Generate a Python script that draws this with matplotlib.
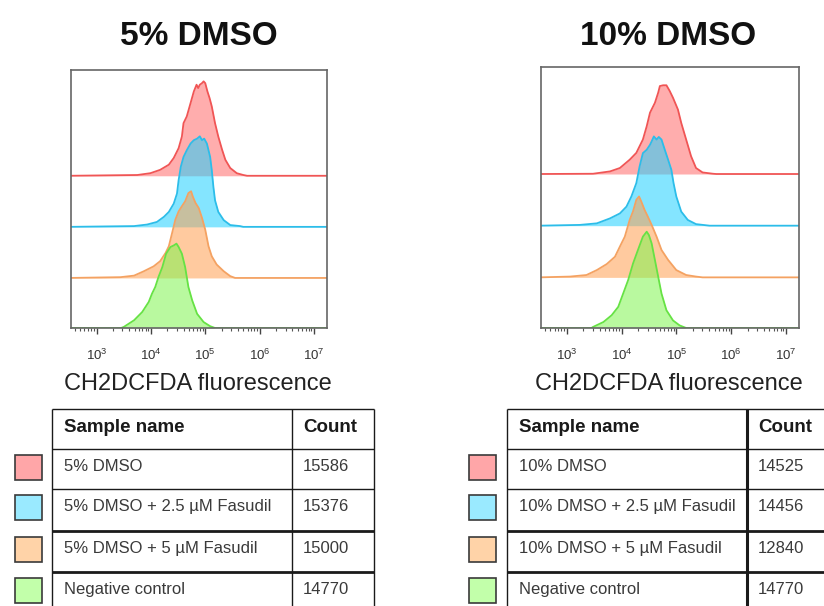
import numpy as np
import matplotlib.pyplot as plt
from matplotlib.patches import Rectangle
from matplotlib.ticker import LogLocator, NullFormatter, FixedLocator, LogFormatterSciNotation

plt.rcParams['font.family'] = ['Liberation Sans', 'DejaVu Sans']
plt.rcParams['mathtext.default'] = 'regular'

# sample table data
names_5 = ['5% DMSO', '5% DMSO + 2.5 µM Fasudil', '5% DMSO + 5 µM Fasudil', 'Negative control']
counts_5 = [15586, 15376, 15000, 14770]
names_10 = ['10% DMSO', '10% DMSO + 2.5 µM Fasudil', '10% DMSO + 5 µM Fasudil', 'Negative control']
counts_10 = [14525, 14456, 12840, 14770]

# histogram traces: log10(fluorescence), height (% of panel)
d5_x = [2.5, 3.75, 3.99, 4.17, 4.33, 4.42, 4.51, 4.57, 4.60, 4.66, 4.73, 4.79, 4.84, 4.87, 4.90,
        4.94, 4.97, 5.00, 5.04, 5.08, 5.12, 5.18, 5.24, 5.31, 5.37, 5.46, 5.58, 5.70, 5.77, 7.3]
d5_y = [0, 0.3, 1.0, 2.3, 4.3, 6.9, 10.7, 15.2, 20.4, 23.0, 28.2, 32.7, 35.3, 34.0, 35.3,
        35.9, 36.6, 35.9, 32.7, 30.1, 26.9, 20.4, 15.2, 10.1, 6.2, 3.0, 1.0, 0.3, 0, 0]
d5_f25_x = [2.5, 3.69, 3.93, 4.11, 4.24, 4.33, 4.42, 4.48, 4.51, 4.55, 4.60, 4.66, 4.73, 4.79, 4.85,
            4.90, 4.94, 4.98, 5.03, 5.06, 5.09, 5.12, 5.15, 5.18, 5.24, 5.34, 5.46, 5.64, 5.70, 7.3]
d5_f25_y = [0, 0.3, 0.9, 1.9, 3.9, 5.8, 9.0, 12.9, 18.1, 23.3, 27.1, 29.7, 32.3, 33.6, 34.2,
            35.1, 33.6, 34.2, 32.3, 29.7, 27.1, 22.0, 15.5, 10.3, 5.8, 2.6, 0.7, 0.3, 0, 0]
d5_f5_x = [2.5, 3.44, 3.69, 3.87, 4.05, 4.17, 4.27, 4.33, 4.39, 4.45, 4.51, 4.57, 4.63, 4.69,
           4.74, 4.77, 4.82, 4.88, 4.94, 5.00, 5.06, 5.12, 5.21, 5.34, 5.46, 5.55, 7.3]
d5_f5_y = [0, 0.3, 0.9, 2.6, 4.5, 6.5, 9.7, 12.3, 17.4, 22.6, 25.8, 27.8, 29.7, 32.9,
           33.6, 31.6, 29.1, 27.1, 23.3, 18.7, 12.3, 8.4, 5.2, 2.6, 0.7, 0, 0]
d5_neg_x = [2.5, 3.45, 3.50, 3.69, 3.84, 3.96, 4.02, 4.08, 4.14, 4.21, 4.28, 4.36, 4.42, 4.47,
            4.51, 4.57, 4.63, 4.69, 4.76, 4.85, 4.97, 5.09, 5.18, 7.3]
d5_neg_y = [0, 0, 0.4, 3.0, 6.2, 10.1, 13.3, 15.9, 19.8, 23.6, 28.8, 31.4, 32.0, 32.7,
            31.4, 28.8, 23.6, 15.9, 10.7, 5.5, 2.3, 0.7, 0, 0]

d10_x = [2.5, 3.48, 3.79, 3.97, 4.15, 4.27, 4.39, 4.46, 4.52, 4.61, 4.67, 4.70, 4.76, 4.82,
         4.88, 4.94, 5.03, 5.09, 5.18, 5.27, 5.36, 5.48, 5.67, 5.73, 7.3]
d10_y = [0, 0.1, 1.0, 2.3, 5.5, 8.1, 13.2, 18.3, 23.5, 27.3, 31.2, 33.7, 34.0, 34.0,
         31.8, 29.2, 24.7, 19.6, 13.2, 6.8, 2.3, 0.6, 0.1, 0, 0]
d10_f25_x = [2.5, 3.24, 3.55, 3.79, 3.97, 4.09, 4.18, 4.27, 4.33, 4.39, 4.46, 4.52, 4.55, 4.59,
             4.64, 4.68, 4.73, 4.79, 4.85, 4.91, 4.95, 5.00, 5.09, 5.21, 5.36, 5.61, 7.3]
d10_f25_y = [0, 0.3, 0.9, 2.8, 4.7, 7.3, 11.2, 16.3, 22.7, 27.8, 29.1, 31.0, 32.3, 34.2,
             33.0, 34.0, 33.0, 29.1, 25.3, 21.4, 16.3, 11.2, 5.4, 2.2, 0.6, 0, 0]
d10_f5_x = [2.5, 3.06, 3.36, 3.55, 3.73, 3.88, 3.97, 4.06, 4.15, 4.21, 4.27, 4.32, 4.36,
            4.42, 4.48, 4.55, 4.64, 4.73, 4.85, 5.00, 5.18, 5.36, 5.48, 7.3]
d10_f5_y = [0, 0.3, 0.9, 2.8, 5.1, 7.9, 11.8, 15.6, 22.1, 25.3, 29.7, 31.0, 29.1,
            25.9, 23.3, 20.1, 15.6, 10.5, 6.7, 2.8, 0.9, 0.3, 0, 0]
d10_neg_x = [2.5, 3.45, 3.48, 3.67, 3.82, 3.94, 4.03, 4.12, 4.21, 4.30, 4.39, 4.46, 4.50,
             4.55, 4.61, 4.67, 4.73, 4.82, 4.94, 5.06, 5.18, 7.3]
d10_neg_y = [0, 0, 0.4, 2.3, 4.9, 8.1, 13.2, 18.3, 24.7, 29.9, 35.0, 36.9, 35.6,
             32.4, 26.0, 19.6, 13.2, 6.8, 2.9, 1.0, 0, 0]

traces_5 = [(d5_x, d5_y), (d5_f25_x, d5_f25_y), (d5_f5_x, d5_f5_y), (d5_neg_x, d5_neg_y)]
traces_10 = [(d10_x, d10_y), (d10_f25_x, d10_f25_y), (d10_f5_x, d10_f5_y), (d10_neg_x, d10_neg_y)]

line_colors = ['#f05555', '#2cbde9', '#f4a262', '#66e244']
fill_colors = ['#ff6b6b', '#1fd0ff', '#ffa050', '#80f550']
box_colors = ['#ffa6a8', '#9aeaff', '#ffd3a8', '#c2ffaa']
offsets = [59.0, 39.2, 19.4, 0.0]

fig = plt.figure(figsize=(8.24, 6.06), dpi=100)
W, H = 824, 606


def hist_panel(rect, traces):
    ax = fig.add_axes([rect[0] / W, 1 - rect[3] / H, (rect[2] - rect[0]) / W, (rect[3] - rect[1]) / H])
    for (lx, hy), off, lc, fc in zip(traces, offsets, line_colors, fill_colors):
        x = 10 ** np.array(lx)
        y = np.array(hy) + off
        ax.fill_between(x, off, y, color=fc, alpha=0.55, lw=0)
        ax.plot(x, y, color=lc, lw=1.3)
    ax.set_xscale('log')
    ax.set_xlim(10 ** 2.53, 10 ** 7.24)
    ax.set_ylim(0, 100)
    ax.set_yticks([])
    ax.xaxis.set_major_locator(FixedLocator([1e3, 1e4, 1e5, 1e6, 1e7]))
    ax.xaxis.set_major_formatter(LogFormatterSciNotation())
    ax.xaxis.set_minor_locator(LogLocator(base=10, subs=np.arange(2, 10)))
    ax.xaxis.set_minor_formatter(NullFormatter())
    ax.tick_params(axis='x', which='major', length=4, width=1, color='#444', labelsize=9.5,
                   labelcolor='#333', pad=10, direction='out')
    ax.tick_params(axis='x', which='minor', length=2, width=0.8, color='#555', direction='out')
    for s in ax.spines.values():
        s.set_color('#666')
        s.set_linewidth(1.2)
    return ax


hist_panel((71, 70, 327, 328), traces_5)
hist_panel((541, 67, 799, 328), traces_10)

ov = fig.add_axes([0, 0, 1, 1])
ov.set_xlim(0, W)
ov.set_ylim(H, 0)
ov.axis('off')

ov.text(199, 45, '5% DMSO', ha='center', va='baseline', fontsize=24, fontweight='bold', color='#111')
ov.text(668, 45, '10% DMSO', ha='center', va='baseline', fontsize=24, fontweight='bold', color='#111')
ov.text(198, 390, 'CH2DCFDA fluorescence', ha='center', va='baseline', fontsize=17, color='#222')
ov.text(669, 390, 'CH2DCFDA fluorescence', ha='center', va='baseline', fontsize=17, color='#222')


def draw_table(cols, names, counts, sq_x, thick_h, thick_v):
    rows = [409, 449, 489, 531, 572]
    bottom = 640
    for i, y in enumerate(rows):
        ov.plot([cols[0], cols[-1]], [y, y], color='#1a1a1a', lw=2.0 if i in thick_h else 1.0,
                solid_capstyle='butt')
    for j, x in enumerate(cols):
        ov.plot([x, x], [rows[0], bottom], color='#1a1a1a', lw=2.2 if j in thick_v else 1.0,
                solid_capstyle='butt')
    ov.text(cols[0] + 12, rows[0] + 23, 'Sample name', fontsize=13.5, fontweight='bold',
            color='#1a1a1a', va='baseline')
    ov.text(cols[1] + 11, rows[0] + 23, 'Count', fontsize=13.5, fontweight='bold',
            color='#1a1a1a', va='baseline')
    for k, (nm, ct, bc) in enumerate(zip(names, counts, box_colors)):
        top = rows[k + 1]
        ov.text(cols[0] + 12, top + 22, nm, fontsize=12, color='#3a3a3a', va='baseline')
        ov.text(cols[1] + 11, top + 22, str(ct), fontsize=12, color='#3a3a3a', va='baseline')
        ov.add_patch(Rectangle((sq_x, top + 6), 27, 25, facecolor=bc, edgecolor='#3a3a3a', lw=1.2))


draw_table([52, 292, 374], names_5, counts_5, 15, thick_h=[3, 4], thick_v=[])
draw_table([507, 747, 840], names_10, counts_10, 469, thick_h=[3, 4], thick_v=[1])

fig.savefig('out.png', dpi=100)
plt.close(fig)
